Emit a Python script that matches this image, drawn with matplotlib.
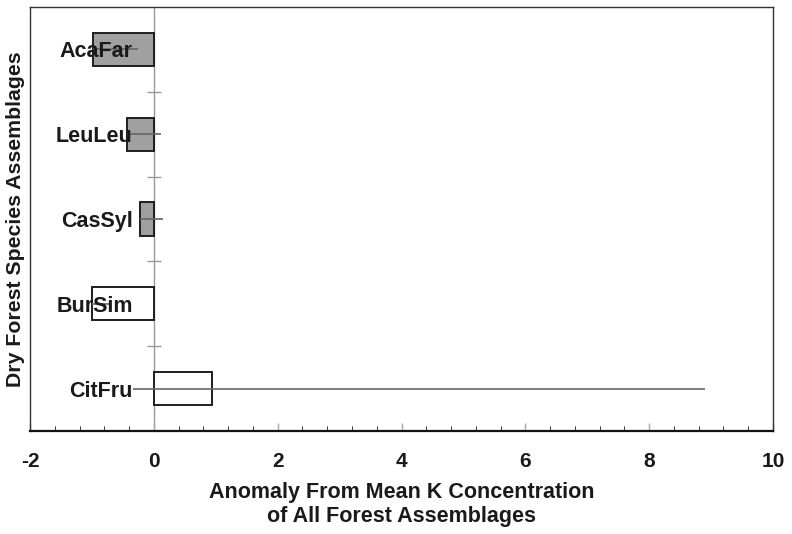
import matplotlib
matplotlib.use('Agg')
import matplotlib.pyplot as plt
import numpy as np
from matplotlib.ticker import MultipleLocator, FixedLocator, NullFormatter

plt.rcParams['font.family'] = ['Liberation Sans', 'DejaVu Sans']
plt.rcParams['axes.unicode_minus'] = False

# ---- data ----
categories = ['AcaFar', 'LeuLeu', 'CasSyl', 'BurSim', 'CitFru']
anomaly = [-0.99, -0.44, -0.23, -1.0, 0.94]
err_lower = [0.0, 0.0, 0.0, 0.0, 1.28]
err_upper = [0.73, 0.55, 0.38, 0.30, 7.96]
shaded = [True, True, True, False, False]
x_ticks = [-2, 0, 2, 4, 6, 8, 10]

fig = plt.figure(figsize=(7.92, 5.34), dpi=100)
ax = fig.add_axes([30 / 792, 1 - 431 / 534, 743 / 792, 424 / 534])

ypos = np.arange(len(categories))
colors = ['#a0a0a0' if s else 'white' for s in shaded]

ax.barh(ypos, anomaly, height=0.39, color=colors, edgecolor='#1e1e1e',
        linewidth=1.4, zorder=3)
ax.errorbar(anomaly, ypos, xerr=[err_lower, err_upper],
            fmt='none', ecolor='#666666', elinewidth=1.2, capsize=0, zorder=4)

for y, name in zip(ypos, categories):
    ax.text(-0.34, y, name, ha='right', va='center_baseline', fontsize=15.5,
            fontweight='bold', color='#1a1a1a', zorder=5)

ax.set_xlim(-2, 10)
ax.set_ylim(len(categories) - 0.5, -0.5)

# x axis ticks
ax.xaxis.set_major_locator(FixedLocator(x_ticks))
ax.xaxis.set_minor_locator(MultipleLocator(0.4))
ax.tick_params(axis='x', which='major', direction='in', length=5.5,
               color='#aaaaaa', width=1.0, labelsize=15, pad=15,
               labelcolor='#1a1a1a')
ax.tick_params(axis='x', which='minor', direction='in', length=3.6,
               color='#333333', width=0.7)
for lab in ax.get_xticklabels():
    lab.set_fontweight('bold')
ax.set_yticks([])

# zero axis with boundary ticks
sec = ax.secondary_yaxis((0 - (-2)) / 12)
sec.set_yticks(ypos[:-1] + 0.5)
sec.yaxis.set_major_formatter(NullFormatter())
sec.tick_params(axis='y', direction='inout', length=10, color='#999999', width=1.0)
sec.spines['left'].set_color('#999999')
sec.spines['left'].set_linewidth(1.0)
sec.set_zorder(1)

for side in ['top', 'left', 'right']:
    ax.spines[side].set_color('#333333')
    ax.spines[side].set_linewidth(1.0)
ax.spines['bottom'].set_color('#111111')
ax.spines['bottom'].set_linewidth(1.6)

ax.set_xlabel('Anomaly From Mean K Concentration\nof All Forest Assemblages',
              fontsize=15.5, fontweight='bold', color='#1a1a1a', labelpad=8,
              linespacing=1.2)
ax.set_ylabel('Dry Forest Species Assemblages', fontsize=15.3,
              fontweight='bold', color='#1a1a1a')
ax.yaxis.set_label_coords(-0.007, 0.5)

fig.savefig('out.png', dpi=100)
